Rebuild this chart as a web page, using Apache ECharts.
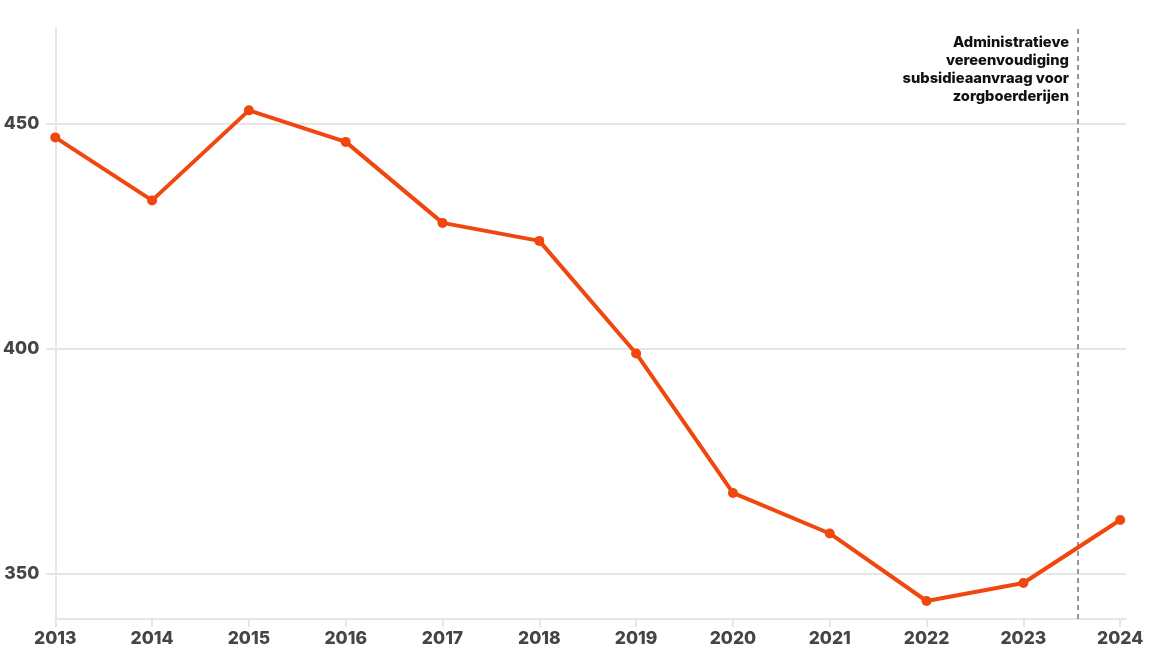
<!DOCTYPE html>
<html>
<head>
<meta charset="utf-8">
<script src="https://cdn.jsdelivr.net/npm/echarts@6/dist/echarts.min.js"></script>
<style>
html,body{margin:0;padding:0;background:#fff;}
#chart{width:1154px;height:669px;}
</style>
</head>
<body>
<div id="chart"></div>
<script>
const years = [2013, 2014, 2015, 2016, 2017, 2018, 2019, 2020, 2021, 2022, 2023, 2024];
const values = [447, 433, 453, 446, 428, 424, 399, 368, 359, 344, 348, 362];
const yTicks = [350, 400, 450];
const markerX = 2023.56;
const annotation = ['Administratieve', 'vereenvoudiging', 'subsidieaanvraag voor', 'zorgboerderijen'];

const chart = echarts.init(document.getElementById('chart'));
const labelFont = {fontFamily: 'Inter, Roboto, sans-serif', fontWeight: 800, fontSize: 17.5, color: '#454545'};
chart.setOption({
  animation: false,
  grid: {left: 55, right: 28, top: 28, bottom: 50, containLabel: false},
  xAxis: {
    type: 'value', min: 2013, max: 2024.06,
    axisLine: {show: true, lineStyle: {color: '#e6e6e6', width: 2}},
    axisTick: {show: true, length: 8, lineStyle: {color: '#e6e6e6', width: 2}, customValues: years},
    axisLabel: Object.assign({margin: 11, customValues: years, formatter: v => String(v)}, labelFont),
    splitLine: {show: false}
  },
  yAxis: {
    type: 'value', min: 340, max: 471.3,
    axisLine: {show: true, lineStyle: {color: '#e6e6e6', width: 2}},
    axisTick: {show: true, length: 9, lineStyle: {color: '#e6e6e6', width: 2}, customValues: yTicks},
    axisLabel: Object.assign({margin: 16, customValues: yTicks}, labelFont),
    splitLine: {show: true, lineStyle: {color: '#e6e6e6', width: 2}}
  },
  series: [{
    type: 'line',
    data: years.map((y, i) => [y, values[i]]),
    symbol: 'circle', symbolSize: 10,
    lineStyle: {color: '#f0470f', width: 4},
    itemStyle: {color: '#f0470f'},
    z: 5,
    markLine: {
      silent: true, symbol: 'none',
      lineStyle: {color: '#8a6b7a', type: [5, 4], width: 1.5},
      label: {show: false},
      data: [{xAxis: markerX}]
    }
  }],
  graphic: annotation.map((t, i) => ({
    type: 'text', x: 1069, y: 35 + i * 18,
    style: {
      text: t,
      align: 'right', verticalAlign: 'top',
      fontFamily: 'Inter, Roboto, sans-serif', fontWeight: 800, fontSize: 14.7,
      fill: '#111'
    }
  }))
});
</script>
</body>
</html>
